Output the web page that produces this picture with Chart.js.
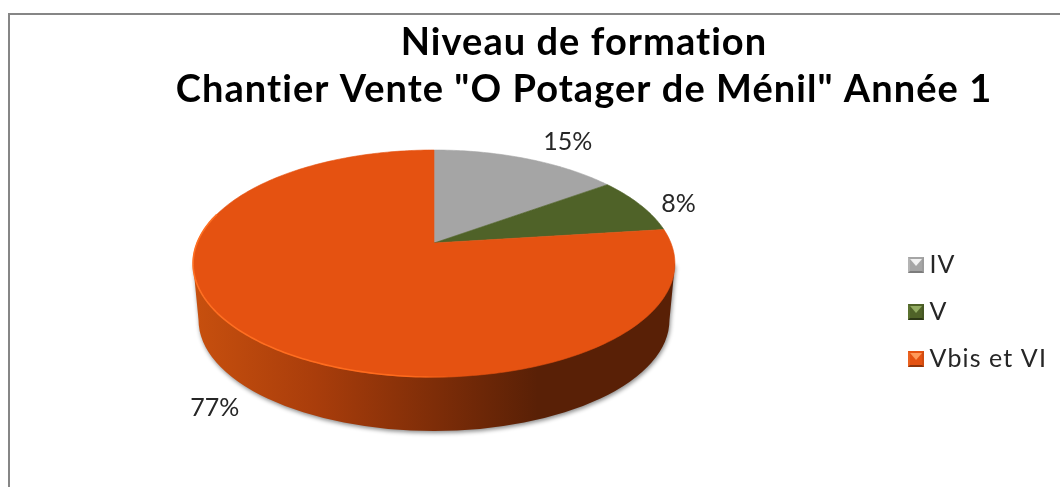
<!DOCTYPE html>
<html><head><meta charset="utf-8">
<style>html,body{margin:0;padding:0;background:#fff;overflow:hidden}canvas{display:block}</style>
<script src="https://cdn.jsdelivr.net/npm/chart.js@4"></script>
</head><body><canvas id="c" width="1060" height="487"></canvas>
<script>
const categories = ['IV', 'V', 'Vbis et VI'];
const values = [15, 8, 77];
const sliceColors = ['#a5a5a5', '#4f6228', '#e55211'];
const titleLines = ['Niveau de formation', 'Chantier Vente "O Potager de Ménil" Année 1'];

const FONT = 'Lato, "Open Sans", sans-serif';
const LABEL_SIZE = 25;
const PERSP = 0.1806, XS = 2.548, YS = 1 + PERSP;
const labelOffsets = [[41, -17], [38, -1], [-38, 70]];
const bevel = [['#b4b4b4', '#f2f2f2', '#9c9c9c', '#7c7c7c'], ['#5b7230', '#93ac62', '#465824', '#2c3716'], ['#ea6220', '#ff9a5a', '#d04c10', '#8f340a']];

function marker(i) {
  const s = 16, c = document.createElement('canvas'); c.width = s; c.height = s;
  const g = c.getContext('2d'), [side, top, sideD, bot] = bevel[i], t = 2;
  g.fillStyle = sliceColors[i]; g.fillRect(0, 0, s, s);
  const tri = (col, pts) => { g.fillStyle = col; g.beginPath(); pts.forEach((p, k) => k ? g.lineTo(p[0], p[1]) : g.moveTo(p[0], p[1])); g.closePath(); g.fill(); };
  tri(side, [[0, 0], [t, t], [t, s - t], [0, s]]);
  tri(sideD, [[s, 0], [s - t, t], [s - t, s - t], [s, s]]);
  tri(top, [[t, t], [s - t, t], [s / 2, s / 2 + 1]]);
  tri(bot, [[0, s], [s, s], [s - t, s - t], [t, s - t]]);
  return c;
}

function proj(el, theta) {
  const u = Math.sin(theta), v = Math.cos(theta), d = 1 + PERSP * v, R = el.outerRadius;
  return [el.x + XS * R * u / d, el.y - YS * R * v / d];
}

function spaced(box, px) {
  if (box._spaced) return;
  box._spaced = true;
  const d = box.draw;
  box.draw = function (arg) { const c = this.ctx; c.save(); c.letterSpacing = px; d.call(this, arg); c.restore(); };
}

const pie3d = {
  id: 'pie3d',
  beforeDraw(chart) {
    const c = chart.ctx;
    c.save(); c.strokeStyle = '#868686'; c.lineWidth = 2; c.beginPath();
    c.moveTo(9, chart.height); c.lineTo(9, 14); c.lineTo(chart.width, 14); c.stroke(); c.restore();
  },
  afterLayout(chart) {
    const a = chart.chartArea, dx = 434 - (a.left + a.right) / 2;
    a.left += dx; a.right += dx;
    const t = chart.titleBlock, ts = 584 - (t.left + t.right) / 2;
    t.left += ts; t.right += ts;
    spaced(t, '1.05px');
    const l = chart.legend, w = l.right - l.left;
    l.left = 1060 - w - 14; l.right = l.left + w; l.top += 144; l.bottom += 144;
    spaced(l, '1.1px');
  },
  beforeDatasetDraw(chart, args) {
    const c = chart.ctx, arcs = chart.getDatasetMeta(args.index).data, e0 = arcs[0], R = e0.outerRadius;
    const cx = e0.x, cy = e0.y;
    // side wall
    const topC = cy + 0.22 * R, topRx = 2.591 * R, botC = cy + 0.828 * R, botRx = 2.532 * R, botRy = 1.194 * R;
    const g = c.createLinearGradient(cx - botRx, 0, cx + botRx, 0);
    g.addColorStop(0, '#c64f0e'); g.addColorStop(0.25, '#a93d0b'); g.addColorStop(0.5, '#7e2d08');
    g.addColorStop(0.72, '#592006'); g.addColorStop(1, '#592006');
    c.save();
    c.shadowColor = 'rgba(0,0,0,0.45)'; c.shadowBlur = 4; c.shadowOffsetX = 1; c.shadowOffsetY = 2;
    c.fillStyle = g; c.beginPath();
    c.moveTo(cx + topRx, topC);
    c.lineTo(cx + botRx, botC);
    c.ellipse(cx, botC, botRx, botRy, 0, 0, Math.PI);
    c.lineTo(cx - topRx, topC);
    c.closePath(); c.fill();
    c.restore();
    // top face, one slice per library arc
    arcs.forEach((el, i) => {
      const a0 = el.startAngle + Math.PI / 2, a1 = el.endAngle + Math.PI / 2, n = Math.ceil((a1 - a0) * 60);
      c.beginPath(); c.moveTo(el.x, el.y);
      for (let k = 0; k <= n; k++) { const p = proj(el, a0 + (a1 - a0) * k / n); c.lineTo(p[0], p[1]); }
      c.closePath();
      c.fillStyle = sliceColors[i]; c.strokeStyle = sliceColors[i]; c.lineWidth = 0.6;
      c.fill(); c.stroke();
    });
    // bright rim, lower left
    const rim = c.createLinearGradient(cx - topRx, 0, cx + 30, 0);
    rim.addColorStop(0, '#ff6f22'); rim.addColorStop(0.8, '#ff6a1c'); rim.addColorStop(1, 'rgba(255,106,28,0)');
    c.save(); c.strokeStyle = rim; c.lineWidth = 1.6; c.beginPath();
    for (let k = 0; k <= 120; k++) { const p = proj(e0, Math.PI + (Math.PI * 0.62) * k / 120 - 0.1); k ? c.lineTo(p[0], p[1]) : c.moveTo(p[0], p[1]); }
    c.stroke(); c.restore();
    // value labels
    c.save(); c.font = LABEL_SIZE + 'px ' + FONT; c.fillStyle = '#262626'; c.textAlign = 'center'; c.textBaseline = 'middle';
    arcs.forEach((el, i) => {
      const p = proj(el, (el.startAngle + el.endAngle) / 2 + Math.PI / 2);
      c.fillText(values[i] + '%', p[0] + labelOffsets[i][0], p[1] + labelOffsets[i][1]);
    });
    c.restore();
    return false;
  }
};

new Chart(document.getElementById('c'), {
  type: 'pie',
  data: { labels: categories, datasets: [{ data: values, backgroundColor: sliceColors, borderWidth: 0 }] },
  plugins: [pie3d],
  options: {
    responsive: false, animation: false,
    layout: { padding: { bottom: 151 } },
    plugins: {
      tooltip: { enabled: false },
      title: { display: true, text: titleLines, color: '#000', font: { family: FONT, size: 38, weight: 'bold', lineHeight: 47 / 38 }, padding: { top: 19, bottom: 37 } },
      legend: { position: 'right', labels: {
        color: '#262626', font: { family: FONT, size: 25 }, padding: 22, usePointStyle: true, pointStyleWidth: 2,
        generateLabels: () => categories.map((t, i) => ({ text: t, pointStyle: marker(i), fillStyle: sliceColors[i], strokeStyle: sliceColors[i], lineWidth: 0, fontColor: '#262626', index: i }))
      } }
    }
  }
});
</script></body></html>
